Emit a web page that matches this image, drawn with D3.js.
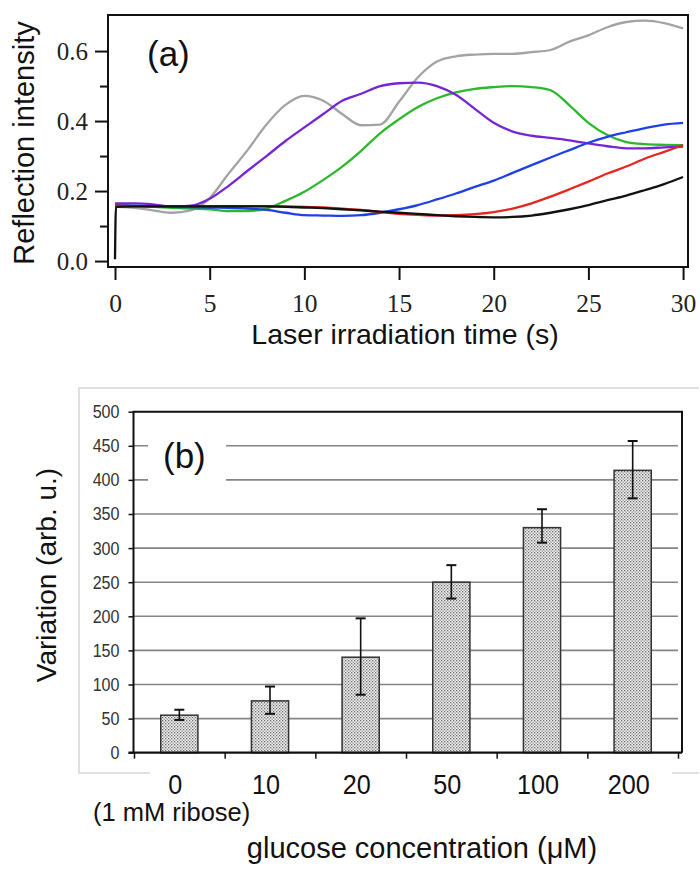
<!DOCTYPE html>
<html>
<head>
<meta charset="utf-8">
<script src="https://cdn.jsdelivr.net/npm/d3@7"></script>
<style>
  body { margin: 0; background: #fff; }
  svg { display: block; }
</style>
</head>
<body>
<div id="chart"></div>
<script>
// ---- panel (a) data: reflection intensity vs laser irradiation time ----
const timeS = [0, 0.05, 1, 2, 3, 4, 5, 6, 7, 8, 9, 10, 11, 12, 13, 14, 15, 16, 17, 18, 19, 20, 21, 22, 23, 24, 25, 26, 27, 28, 29, 30];

const grayVals = [0.155, 0.155, 0.152, 0.145, 0.138, 0.145, 0.18, 0.25, 0.317, 0.39, 0.446, 0.472, 0.458, 0.42, 0.388, 0.39, 0.455, 0.525, 0.57, 0.585, 0.59, 0.592, 0.592, 0.597, 0.603, 0.627, 0.645, 0.668, 0.683, 0.687, 0.68, 0.665];
const purpleVals = [0.165, 0.165, 0.165, 0.162, 0.155, 0.158, 0.178, 0.215, 0.258, 0.3, 0.343, 0.382, 0.42, 0.458, 0.478, 0.5, 0.508, 0.51, 0.5, 0.475, 0.435, 0.395, 0.37, 0.358, 0.352, 0.345, 0.336, 0.328, 0.322, 0.322, 0.325, 0.327];
const greenVals = [0.158, 0.158, 0.157, 0.155, 0.152, 0.15, 0.148, 0.143, 0.143, 0.15, 0.172, 0.198, 0.232, 0.27, 0.315, 0.365, 0.405, 0.44, 0.465, 0.482, 0.492, 0.497, 0.5, 0.497, 0.488, 0.445, 0.395, 0.36, 0.34, 0.334, 0.332, 0.331];
const blueVals = [0.16, 0.16, 0.158, 0.156, 0.155, 0.154, 0.153, 0.152, 0.15, 0.146, 0.138, 0.131, 0.13, 0.129, 0.131, 0.138, 0.148, 0.16, 0.176, 0.193, 0.212, 0.23, 0.252, 0.274, 0.296, 0.317, 0.338, 0.355, 0.368, 0.38, 0.39, 0.395];
const redVals = [0.158, 0.158, 0.157, 0.157, 0.157, 0.157, 0.157, 0.157, 0.157, 0.157, 0.156, 0.155, 0.153, 0.15, 0.146, 0.14, 0.135, 0.132, 0.13, 0.131, 0.134, 0.14, 0.15, 0.165, 0.184, 0.205, 0.227, 0.25, 0.27, 0.293, 0.312, 0.331];
const blackVals = [0.005, 0.155, 0.156, 0.156, 0.156, 0.156, 0.156, 0.156, 0.156, 0.156, 0.155, 0.153, 0.151, 0.148, 0.145, 0.141, 0.138, 0.135, 0.131, 0.128, 0.126, 0.125, 0.126, 0.13, 0.138, 0.148, 0.16, 0.174, 0.187, 0.203, 0.22, 0.24];

const seriesColors = ['#a3a3a3', '#2cb82c', '#7426d4', '#1f40e6', '#e6261f', '#111111'];
const seriesVals = [grayVals, greenVals, purpleVals, blueVals, redVals, blackVals];

const xTicksA = [0, 5, 10, 15, 20, 25, 30];
const yTicksA = [0, 0.2, 0.4, 0.6];
const yMinorA = [0.1, 0.3, 0.5];

// ---- panel (b) data: variation vs glucose concentration ----
const glucose = ['0', '10', '20', '50', '100', '200'];
const variation = [55, 76, 140, 250, 330, 414];
const errHigh = [63, 97, 197, 275, 357, 457];
const errLow = [48, 57, 85, 226, 308, 373];
const yTicksB = d3.range(0, 501, 50);

const W = 700, H = 869;
const svg = d3.select('#chart').append('svg')
  .attr('width', W).attr('height', H);

const serif = '"Liberation Serif", "Times New Roman", "DejaVu Serif", serif';
const sans = '"Liberation Sans", Arial, sans-serif';

function styleAxis(g, font, size, color) {
  g.select('.domain').remove();
  g.selectAll('.tick line').attr('stroke', '#111').attr('stroke-width', 2);
  g.selectAll('.tick text')
    .attr('font-family', font).attr('font-size', size).attr('fill', color);
}

// squeeze tick text horizontally (the original uses a narrow face)
function condense(g, k, dx) {
  g.selectAll('.tick text').each(function () {
    const t = d3.select(this);
    const x = +t.attr('x') || 0;
    t.attr('x', x / k).attr('dx', (dx || 0) / k)
      .attr('transform', `scale(${k},1)`);
  });
}

/* ---------------- panel (a) ---------------- */
const fa = { left: 108, top: 15, right: 688, bottom: 267 };

const xA = d3.scaleLinear().domain([-0.37, 30.26]).range([fa.left, fa.right]);
const yA = d3.scaleLinear().domain([-0.017, 0.703]).range([fa.bottom, fa.top]);

const line = d3.line()
  .x((d) => xA(d[0]))
  .y((d) => yA(d[1]))
  .curve(d3.curveMonotoneX);

svg.append('g')
  .selectAll('path')
  .data(seriesVals)
  .join('path')
  .attr('fill', 'none')
  .attr('stroke', (d, i) => seriesColors[i])
  .attr('stroke-width', 2.3)
  .attr('d', (vals) => line(timeS.map((t, i) => [t, vals[i]])));

// frame
svg.append('rect')
  .attr('x', fa.left).attr('y', fa.top)
  .attr('width', fa.right - fa.left).attr('height', fa.bottom - fa.top)
  .attr('fill', 'none').attr('stroke', '#111').attr('stroke-width', 2);

svg.append('g')
  .attr('transform', `translate(${fa.left},0)`)
  .call(d3.axisLeft(yA).tickValues(yTicksA).tickFormat(d3.format('.1f')).tickSize(13).tickPadding(7))
  .call((g) => styleAxis(g, serif, 25, '#222'));

svg.append('g')
  .attr('transform', `translate(${fa.left},0)`)
  .call(d3.axisLeft(yA).tickValues(yMinorA).tickFormat('').tickSize(8))
  .call((g) => styleAxis(g, serif, 25, '#222'));

svg.append('g')
  .attr('transform', `translate(0,${fa.bottom})`)
  .call(d3.axisBottom(xA).tickValues(xTicksA).tickSize(13).tickPadding(14))
  .call((g) => styleAxis(g, serif, 25.5, '#222'));

svg.append('text')
  .attr('x', 147).attr('y', 66)
  .attr('font-family', sans).attr('font-size', 35).attr('fill', '#111')
  .text('(a)');

svg.append('text')
  .attr('transform', 'translate(34,143) rotate(-90)')
  .attr('text-anchor', 'middle')
  .attr('font-family', sans).attr('font-size', 29).attr('fill', '#111')
  .text('Reflection intensity');

svg.append('text')
  .attr('x', 405).attr('y', 344)
  .attr('text-anchor', 'middle')
  .attr('font-family', sans).attr('font-size', 28.5).attr('fill', '#111')
  .text('Laser irradiation time (s)');

/* ---------------- panel (b) ---------------- */
const fb = { left: 133.5, top: 411.7, right: 682, bottom: 752.7 };

// light outer box (right side runs off the picture)
svg.append('path')
  .attr('d', 'M699,388H79V773H699')
  .attr('fill', 'none').attr('stroke', '#d6d6d6').attr('stroke-width', 1.5);
svg.append('rect')
  .attr('x', 150).attr('y', 766).attr('width', 522).attr('height', 14)
  .attr('fill', '#fff');

const defs = svg.append('defs');
const pat = defs.append('pattern')
  .attr('id', 'dots').attr('patternUnits', 'userSpaceOnUse')
  .attr('width', 3).attr('height', 3);
pat.append('rect').attr('width', 3).attr('height', 3).attr('fill', '#ededed');
pat.append('rect').attr('x', 0).attr('y', 0).attr('width', 1.3).attr('height', 1.3).attr('fill', '#707070');
pat.append('rect').attr('x', 1.5).attr('y', 1.5).attr('width', 1.3).attr('height', 1.3).attr('fill', '#8c8c8c');

const xB = d3.scaleBand()
  .domain(glucose)
  .range([134, 678])
  .paddingInner(0.59)
  .paddingOuter(0.295);
const xEdge = d3.scaleLinear().domain([0, glucose.length]).range([134, 678]);
const yB = d3.scaleLinear().domain([0, 500]).range([fb.bottom, fb.top]);

// gridlines
svg.append('g')
  .selectAll('line')
  .data(yTicksB.filter((v) => v > 0 && v < 500))
  .join('line')
  .attr('x1', fb.left).attr('x2', 678)
  .attr('y1', (d) => yB(d)).attr('y2', (d) => yB(d))
  .attr('stroke', '#858585').attr('stroke-width', 1.6);

// (b) label with white backing
svg.append('rect')
  .attr('x', 148).attr('y', 437).attr('width', 78).attr('height', 50)
  .attr('fill', '#fff');
svg.append('text')
  .attr('x', 163).attr('y', 468)
  .attr('font-family', sans).attr('font-size', 35).attr('fill', '#111')
  .text('(b)');

// bars
svg.append('g')
  .selectAll('rect')
  .data(variation)
  .join('rect')
  .attr('x', (d, i) => xB(glucose[i]))
  .attr('y', (d) => yB(d))
  .attr('width', xB.bandwidth())
  .attr('height', (d) => yB(0) - yB(d))
  .attr('fill', 'url(#dots)')
  .attr('stroke', '#333').attr('stroke-width', 1.5);

// error bars
const eb = svg.append('g').attr('stroke', '#111').attr('stroke-width', 1.6);
glucose.forEach((c, i) => {
  const cx = xB(c) + xB.bandwidth() / 2;
  eb.append('line').attr('x1', cx).attr('x2', cx)
    .attr('y1', yB(errLow[i])).attr('y2', yB(errHigh[i]));
  [errLow[i], errHigh[i]].forEach((v) => {
    eb.append('line').attr('x1', cx - 5).attr('x2', cx + 5)
      .attr('y1', yB(v)).attr('y2', yB(v)).attr('stroke-width', 2);
  });
});

// frame of plot area
svg.append('path')
  .attr('d', `M${fb.left},${fb.bottom}V${fb.top}H${fb.right}V${fb.bottom}`)
  .attr('fill', 'none').attr('stroke', '#111').attr('stroke-width', 2);
svg.append('line')
  .attr('x1', fb.left - 5).attr('x2', fb.right)
  .attr('y1', fb.bottom).attr('y2', fb.bottom)
  .attr('stroke', '#111').attr('stroke-width', 2.2);

svg.append('g')
  .attr('transform', `translate(${fb.left},0)`)
  .call(d3.axisLeft(yB).tickValues(yTicksB).tickSize(5).tickPadding(9))
  .call((g) => styleAxis(g, sans, 18.5, '#333'))
  .call((g) => g.selectAll('.tick line').attr('stroke-width', 1.5))
  .call((g) => condense(g, 0.87, 0));

svg.append('g')
  .attr('transform', `translate(0,${fb.bottom})`)
  .call(d3.axisBottom(xEdge).tickValues(d3.range(glucose.length + 1)).tickFormat('').tickSize(6))
  .call((g) => styleAxis(g, sans, 19, '#333'))
  .call((g) => g.selectAll('.tick line').attr('stroke-width', 1.5));

svg.append('g')
  .attr('transform', `translate(0,${fb.bottom})`)
  .call(d3.axisBottom(xB).tickSize(0).tickPadding(21))
  .call((g) => styleAxis(g, sans, 28, '#111'))
  .call((g) => condense(g, 0.9, -4));

svg.append('text')
  .attr('x', 93).attr('y', 821)
  .attr('font-family', sans).attr('font-size', 25.5).attr('fill', '#111')
  .text('(1 mM ribose)');

svg.append('text')
  .attr('x', 422).attr('y', 858)
  .attr('text-anchor', 'middle')
  .attr('font-family', sans).attr('font-size', 29).attr('fill', '#111')
  .text('glucose concentration (\u03bcM)');

svg.append('text')
  .attr('transform', 'translate(56,575) rotate(-90)')
  .attr('text-anchor', 'middle')
  .attr('font-family', sans).attr('font-size', 28).attr('fill', '#111')
  .text('Variation (arb. u.)');
</script>
</body>
</html>
